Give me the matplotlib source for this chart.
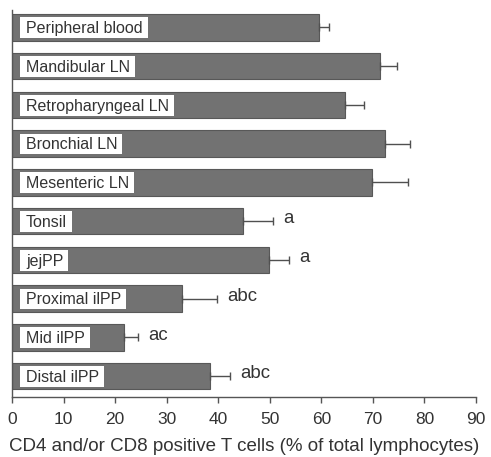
import matplotlib
matplotlib.use("Agg")
import matplotlib.pyplot as plt
from matplotlib.patches import Rectangle
from matplotlib.transforms import blended_transform_factory
import numpy as np

# Tissue sites and mean percentage of CD4 and/or CD8 positive T cells (+ SEM)
tissues = ["Peripheral blood", "Mandibular LN", "Retropharyngeal LN", "Bronchial LN",
           "Mesenteric LN", "Tonsil", "jejPP", "Proximal ilPP", "Mid ilPP", "Distal ilPP"]
means = [59.6, 71.4, 64.6, 72.4, 69.8, 44.8, 49.9, 33.0, 21.7, 38.4]
sem = [1.9, 3.3, 3.7, 4.8, 7.0, 5.8, 3.8, 6.8, 2.7, 3.9]
letters = ["", "", "", "", "", "a", "a", "abc", "ac", "abc"]
xticks = [0, 10, 20, 30, 40, 50, 60, 70, 80, 90]

plt.rcParams["font.family"] = ["Liberation Sans", "DejaVu Sans"]
axis_col = "#555555"
text_col = "#333333"
bar_h = 0.68

fig = plt.figure(figsize=(4.91, 4.57), dpi=100)
ax = fig.add_axes([12 / 491, 1 - 397 / 457, (476 - 12) / 491, (397 - 10) / 457])

ypos = np.arange(len(tissues))
ax.barh(ypos, means, height=bar_h, color="#727272", edgecolor="#585858",
        linewidth=0.8, zorder=2)
ax.errorbar(means, ypos, xerr=[np.zeros(len(sem)), sem], fmt="none",
            ecolor="#505050", elinewidth=1.0, capsize=2.9, capthick=1.0, zorder=3)

ax.set_xlim(0, 90)
ax.set_ylim(9.54, -0.45)

labels = []
for y, name, m, e, lab in zip(ypos, tissues, means, sem, letters):
    labels.append(ax.text(2.7, y + 0.03, name, ha="left", va="center", fontsize=11.5,
                          color=text_col, zorder=5))
    if lab:
        ax.text(m + e + 2.0, y - 0.06, lab, ha="left", va="center", fontsize=13.4,
                color=text_col, zorder=4)

# White label panels inside each bar, sized to the text width
fig.canvas.draw()
renderer = fig.canvas.get_renderer()
inv = ax.transData.inverted()
for y, t in zip(ypos, labels):
    bb = t.get_window_extent(renderer)
    x0 = inv.transform((bb.x0 - 6, 0))[0]
    x1 = inv.transform((bb.x1 + 5, 0))[0]
    top = y - bar_h / 2 + 0.08
    bottom = y + bar_h / 2 - 0.06
    ax.add_patch(Rectangle((x0, top), x1 - x0, bottom - top, facecolor="white",
                           edgecolor="none", zorder=4))

ax.set_xticks(xticks)
ax.set_yticks([])
ax.tick_params(axis="x", direction="out", length=4, width=1, color=axis_col,
               labelcolor=text_col, labelsize=12.5, pad=7)
for side in ("top", "right"):
    ax.spines[side].set_visible(False)
for side in ("left", "bottom"):
    ax.spines[side].set_color(axis_col)
    ax.spines[side].set_linewidth(1)
ax.set_xlabel("CD4 and/or CD8 positive T cells (% of total lymphocytes)",
              fontsize=13.5, color=text_col, labelpad=8)

fig.savefig("out.png", dpi=100)
